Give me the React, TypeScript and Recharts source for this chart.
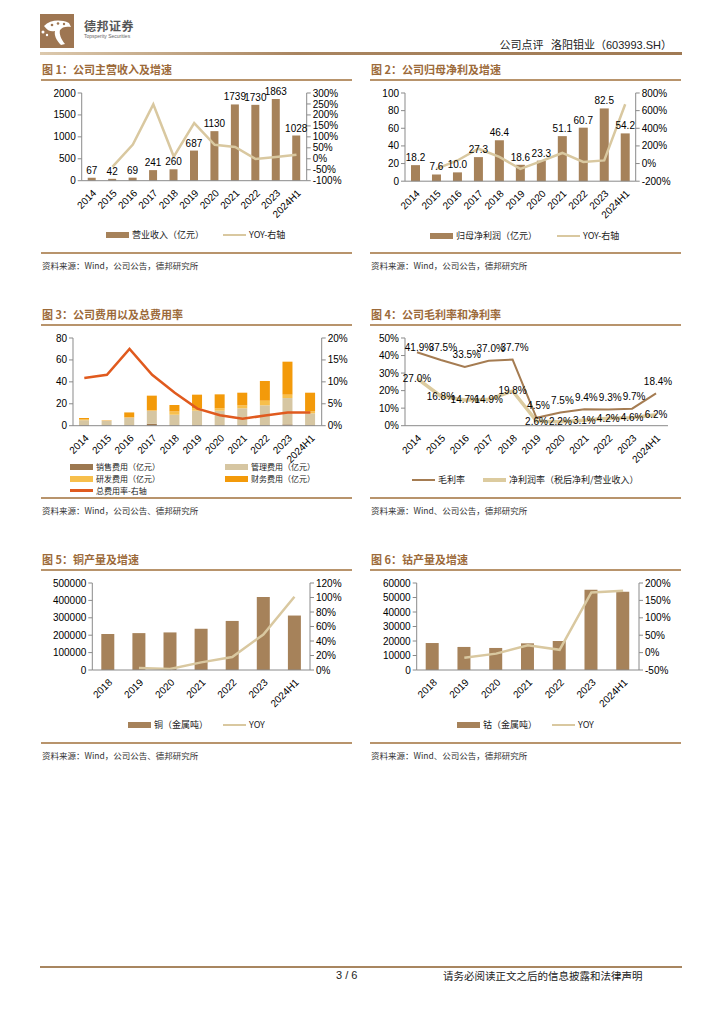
import React from 'react';
import { ComposedChart, Bar, Line, XAxis, YAxis, LabelList } from 'recharts';

// ---- data ----
const years = ['2014', '2015', '2016', '2017', '2018', '2019', '2020', '2021', '2022', '2023', '2024H1'];
const revenue = [67, 42, 69, 241, 260, 687, 1130, 1739, 1730, 1863, 1028];
const revenueYoy = [null, -37, 65, 248, 10, 163, 64, 54, -1, 8, 18];

const netProfit = [18.2, 7.6, 10.0, 27.3, 46.4, 18.6, 23.3, 51.1, 60.7, 82.5, 54.2];
const netProfitYoy = [null, -60, 35, 168, 75, -60, 28, 120, 19, 36, 672];

const sellingExp = [0.5, 0.3, 0.4, 1.8, 0.5, 0.6, 0.5, 0.5, 0.5, 1.2, 0.5];
const adminExp = [4.5, 4.2, 7.0, 11.8, 9.5, 13.1, 13.2, 15.3, 18.1, 24.0, 10.8];
const rdExp = [0.8, 0.1, 0.2, 0.3, 3.0, 2.4, 2.1, 2.8, 4.2, 3.1, 1.8];
const finExp = [1.2, 0.3, 4.5, 13.5, 5.9, 12.2, 12.8, 11.5, 18.0, 30.1, 17.0];
const expRate = [10.9, 11.6, 17.5, 11.6, 7.5, 3.9, 2.4, 1.6, 2.3, 3.0, 3.0];

const grossMargin = [41.9, 37.5, 33.5, 37.0, 37.7, 4.5, 7.5, 9.4, 9.3, 9.7, 18.4];
const netMargin = [27.0, 16.8, 14.7, 14.9, 19.8, 2.6, 2.2, 3.1, 4.2, 4.6, 6.2];

const years7 = ['2018', '2019', '2020', '2021', '2022', '2023', '2024H1'];
const copper = [207000, 212000, 216000, 237000, 282000, 420000, 313000];
const copperYoy = [null, 2.8, 1.5, 10.5, 18, 49, 101];
const cobalt = [18600, 15900, 15200, 18400, 20000, 55400, 54000];
const cobaltYoy = [null, -15, -3, 21, 8, 173, 178];

const data1 = years.map((name, i) => ({ name, v: revenue[i], yoy: revenueYoy[i] }));
const data2 = years.map((name, i) => ({ name, v: netProfit[i], yoy: netProfitYoy[i] }));
const data3 = years.map((name, i) => ({
  name, sell: sellingExp[i], admin: adminExp[i], rd: rdExp[i], fin: finExp[i], rate: expRate[i],
}));
const data4 = years.map((name, i) => ({ name, gross: grossMargin[i], net: netMargin[i] }));
const data5 = years7.map((name, i) => ({ name, v: copper[i], yoy: copperYoy[i] }));
const data6 = years7.map((name, i) => ({ name, v: cobalt[i], yoy: cobaltYoy[i] }));

// ---- style ----
const BAR = '#A6825A';
const TAN = '#D9C8A0';
const TITLE = '#9C6A3A';
const RULE = '#B8946C';
const AXIS = '#8a8a8a';
const NUM = '"Liberation Sans", Arial, sans-serif';
const CJK = '"Noto Sans CJK SC", sans-serif';
const MT = 10;
const XH = 44;

const tickStyle = { fontSize: 10, fill: '#000', fontFamily: NUM };
const pct = (v: number) => `${v}%`;

function chartBox(colL: number, colR: number, x0: number, y0: number, x1: number, y1: number) {
  return {
    style: { position: 'absolute' as const, left: colL, top: y0 - MT },
    width: colR - colL,
    height: y1 - y0 + MT + XH,
    lw: x0 - colL,
    rw: colR - x1,
  };
}

function Frame({ left, top, title, source }: { left: number; top: number; title: string; source: string }) {
  return (
    <>
      <div style={{ position: 'absolute', left: left + 1, top: top + 6, fontFamily: CJK, fontWeight: 700, fontSize: 11, color: TITLE, whiteSpace: 'nowrap' }}>{title}</div>
      <div style={{ position: 'absolute', left, top: top + 24, width: 311, height: 1.5, background: RULE }} />
      <div style={{ position: 'absolute', left, top: top + 197, width: 311, height: 1.5, background: RULE }} />
      <div style={{ position: 'absolute', left: left + 1, top: top + 204, fontFamily: CJK, fontSize: 8.5, color: '#333', whiteSpace: 'nowrap' }}>{source}</div>
    </>
  );
}

function Key({ x, y, color, kind, label, w = 23, fs = 9 }: { x: number; y: number; color: string; kind: 'bar' | 'line' | 'thick'; label: string; w?: number; fs?: number }) {
  const h = kind === 'bar' ? 6 : kind === 'thick' ? 4 : 2.5;
  return (
    <>
      <div style={{ position: 'absolute', left: x, top: y - h / 2, width: w, height: h, background: color }} />
      <div style={{ position: 'absolute', left: x + w + 3, top: y - fs / 2 - 0.5, fontFamily: CJK, fontSize: fs, lineHeight: `${fs + 1}px`, color: '#222', whiteSpace: 'nowrap' }}>{label}</div>
    </>
  );
}

const xAxisProps = {
  dataKey: 'name',
  scale: 'band' as const,
  interval: 0 as const,
  angle: -45,
  textAnchor: 'end',
  height: XH,
  tick: tickStyle,
  tickLine: false,
  axisLine: { stroke: AXIS },
};

function yProps(width: number, orientation: 'left' | 'right') {
  return {
    width,
    orientation,
    interval: 0 as const,
    tick: tickStyle,
    tickSize: 4,
    tickLine: { stroke: AXIS },
    axisLine: { stroke: AXIS },
  };
}

function Chart1() {
  const b = chartBox(41, 352, 81.7, 93.3, 306.7, 181);
  return (
    <div style={b.style}>
      <ComposedChart width={b.width} height={b.height} data={data1} margin={{ top: MT, right: 0, left: 0, bottom: 0 }}>
        <XAxis {...xAxisProps} />
        <YAxis yAxisId="l" {...yProps(b.lw, 'left')} domain={[0, 2000]} ticks={[0, 500, 1000, 1500, 2000]} />
        <YAxis yAxisId="r" {...yProps(b.rw, 'right')} domain={[-100, 300]} ticks={[-100, -50, 0, 50, 100, 150, 200, 250, 300]} tickFormatter={pct} />
        <Bar yAxisId="l" dataKey="v" fill={BAR} barSize={8} isAnimationActive={false}>
          <LabelList dataKey="v" position="top" offset={4} style={{ fontSize: 10, fill: '#000', fontFamily: NUM }} />
        </Bar>
        <Line yAxisId="r" dataKey="yoy" stroke={TAN} strokeWidth={2.5} dot={false} type="linear" isAnimationActive={false} />
      </ComposedChart>
    </div>
  );
}

function Chart2() {
  const b = chartBox(370, 680, 405, 93.3, 635.7, 181.5);
  return (
    <div style={b.style}>
      <ComposedChart width={b.width} height={b.height} data={data2} margin={{ top: MT, right: 0, left: 0, bottom: 0 }}>
        <XAxis {...xAxisProps} />
        <YAxis yAxisId="l" {...yProps(b.lw, 'left')} domain={[0, 100]} ticks={[0, 20, 40, 60, 80, 100]} />
        <YAxis yAxisId="r" {...yProps(b.rw, 'right')} domain={[-200, 800]} ticks={[-200, 0, 200, 400, 600, 800]} tickFormatter={pct} />
        <Bar yAxisId="l" dataKey="v" fill={BAR} barSize={9} isAnimationActive={false}>
          <LabelList dataKey="v" position="top" offset={4} formatter={(v: number) => v.toFixed(1)} style={{ fontSize: 10, fill: '#000', fontFamily: NUM }} />
        </Bar>
        <Line yAxisId="r" dataKey="yoy" stroke={TAN} strokeWidth={2.5} dot={false} type="linear" isAnimationActive={false} />
      </ComposedChart>
    </div>
  );
}

const SELL = '#9C7850';
const ADMIN = '#D6C6A2';
const RD = '#F7BF4C';
const FIN = '#F39A0A';
const RATE = '#E05A1E';

function Chart3() {
  const b = chartBox(41, 352, 73, 338.3, 321.7, 426);
  return (
    <div style={b.style}>
      <ComposedChart width={b.width} height={b.height} data={data3} margin={{ top: MT, right: 0, left: 0, bottom: 0 }}>
        <XAxis {...xAxisProps} />
        <YAxis yAxisId="l" {...yProps(b.lw, 'left')} domain={[0, 80]} ticks={[0, 20, 40, 60, 80]} />
        <YAxis yAxisId="r" {...yProps(b.rw, 'right')} domain={[0, 20]} ticks={[0, 5, 10, 15, 20]} tickFormatter={pct} />
        <Bar yAxisId="l" dataKey="sell" stackId="s" fill={SELL} barSize={10} isAnimationActive={false} />
        <Bar yAxisId="l" dataKey="admin" stackId="s" fill={ADMIN} barSize={10} isAnimationActive={false} />
        <Bar yAxisId="l" dataKey="rd" stackId="s" fill={RD} barSize={10} isAnimationActive={false} />
        <Bar yAxisId="l" dataKey="fin" stackId="s" fill={FIN} barSize={10} isAnimationActive={false} />
        <Line yAxisId="r" dataKey="rate" stroke={RATE} strokeWidth={2.5} dot={false} type="linear" isAnimationActive={false} />
      </ComposedChart>
    </div>
  );
}

const GROSS = '#A57C52';
const NET = '#DCCB9F';

function GrossLabel(props: any) {
  const { x, y, value } = props;
  const cy = Math.max(y - 12, MT + 10);
  return (
    <text x={x + 2} y={cy} textAnchor="middle" dominantBaseline="central" style={{ fontSize: 10, fill: '#000', fontFamily: NUM }}>
      {`${value.toFixed(1)}%`}
    </text>
  );
}

function NetLabel(props: any) {
  const { x, y, value } = props;
  return (
    <text x={x} y={y} textAnchor="middle" dominantBaseline="central" style={{ fontSize: 10, fill: '#000', fontFamily: NUM }}>
      {`${value.toFixed(1)}%`}
    </text>
  );
}

function Chart4() {
  const b = chartBox(370, 680, 405, 338.3, 668, 426);
  return (
    <div style={b.style}>
      <ComposedChart width={b.width} height={b.height} data={data4} margin={{ top: MT, right: b.rw, left: 0, bottom: 0 }}>
        <XAxis {...xAxisProps} />
        <YAxis {...yProps(b.lw, 'left')} domain={[0, 50]} ticks={[0, 10, 20, 30, 40, 50]} tickFormatter={pct} />
        <Line dataKey="net" stroke={NET} strokeWidth={3.5} dot={false} type="linear" isAnimationActive={false}>
          <LabelList dataKey="net" content={NetLabel} />
        </Line>
        <Line dataKey="gross" stroke={GROSS} strokeWidth={2} dot={false} type="linear" isAnimationActive={false}>
          <LabelList dataKey="gross" content={GrossLabel} />
        </Line>
      </ComposedChart>
    </div>
  );
}

function Chart5() {
  const b = chartBox(41, 352, 92.3, 583.3, 310, 670.3);
  return (
    <div style={b.style}>
      <ComposedChart width={b.width} height={b.height} data={data5} margin={{ top: MT, right: 0, left: 0, bottom: 0 }}>
        <XAxis {...xAxisProps} />
        <YAxis yAxisId="l" {...yProps(b.lw, 'left')} domain={[0, 500000]} ticks={[0, 100000, 200000, 300000, 400000, 500000]} />
        <YAxis yAxisId="r" {...yProps(b.rw, 'right')} domain={[0, 120]} ticks={[0, 20, 40, 60, 80, 100, 120]} tickFormatter={pct} />
        <Bar yAxisId="l" dataKey="v" fill={BAR} barSize={13} isAnimationActive={false} />
        <Line yAxisId="r" dataKey="yoy" stroke={TAN} strokeWidth={2.5} dot={false} type="linear" isAnimationActive={false} />
      </ComposedChart>
    </div>
  );
}

function Chart6() {
  const b = chartBox(370, 680, 416.7, 583.3, 639, 670.3);
  return (
    <div style={b.style}>
      <ComposedChart width={b.width} height={b.height} data={data6} margin={{ top: MT, right: 0, left: 0, bottom: 0 }}>
        <XAxis {...xAxisProps} />
        <YAxis yAxisId="l" {...yProps(b.lw, 'left')} domain={[0, 60000]} ticks={[0, 10000, 20000, 30000, 40000, 50000, 60000]} />
        <YAxis yAxisId="r" {...yProps(b.rw, 'right')} domain={[-50, 200]} ticks={[-50, 0, 50, 100, 150, 200]} tickFormatter={pct} />
        <Bar yAxisId="l" dataKey="v" fill={BAR} barSize={13} isAnimationActive={false} />
        <Line yAxisId="r" dataKey="yoy" stroke={TAN} strokeWidth={2.5} dot={false} type="linear" isAnimationActive={false} />
      </ComposedChart>
    </div>
  );
}

function Logo() {
  return (
    <svg style={{ position: 'absolute', left: 40, top: 14 }} width={34} height={34} viewBox="0 0 34 34">
      <rect x={0} y={0} width={34} height={34} fill="#9E7652" />
      <path d="M4 12 C10 6 20 5 29 9 L31 13 C26 12 22 13 20 16 C19 20 21 25 25 30 L21 31 C16 26 14 21 15 17 C11 18 8 17 4 12 Z" fill="#fff" />
      <circle cx={12} cy={11} r={1.3} fill="#9E7652" />
      <circle cx={18} cy={9.5} r={1.3} fill="#9E7652" />
      <circle cx={24} cy={10} r={1.2} fill="#9E7652" />
      <circle cx={3} cy={18} r={1.5} fill="#fff" />
      <circle cx={7} cy={21} r={1.2} fill="#fff" />
    </svg>
  );
}

export default function App() {
  return (
    <div style={{ position: 'absolute', left: 0, top: 0, width: 724, height: 1024, background: '#fff', overflow: 'hidden' }}>
      {/* header */}
      <Logo />
      <div style={{ position: 'absolute', left: 84, top: 17, fontFamily: CJK, fontWeight: 700, fontSize: 12, color: '#555', letterSpacing: 0.5 }}>德邦证券</div>
      <div style={{ position: 'absolute', left: 84, top: 33, fontFamily: NUM, fontSize: 5, color: '#666' }}>Topsperity Securities</div>
      <div style={{ position: 'absolute', right: 52, top: 36, fontFamily: CJK, fontSize: 11, color: '#222', whiteSpace: 'pre' }}>
        {'公司点评   洛阳钼业（'}<span style={{ fontFamily: NUM }}>603993.SH</span>{'）'}
      </div>
      <div style={{ position: 'absolute', left: 40, top: 52, width: 642, height: 2.5, background: 'linear-gradient(to right, #dcc9ad, #a98560 40%, #a07a54)' }} />

      {/* chart 1 */}
      <Frame left={41} top={55} title="图 1：公司主营收入及增速" source="资料来源：Wind，公司公告，德邦研究所" />
      <Chart1 />
      <Key x={106} y={235} color={BAR} kind="bar" label="营业收入（亿元）" />
      <Key x={223} y={235} color={TAN} kind="line" label="YOY-右轴" />

      {/* chart 2 */}
      <Frame left={370} top={55} title="图 2：公司归母净利及增速" source="资料来源：Wind，公司公告，德邦研究所" />
      <Chart2 />
      <Key x={430} y={236} color={BAR} kind="bar" label="归母净利润（亿元）" />
      <Key x={557} y={236} color={TAN} kind="line" label="YOY-右轴" />

      {/* chart 3 */}
      <Frame left={41} top={300} title="图 3：公司费用以及总费用率" source="资料来源：Wind，公司公告、德邦研究所" />
      <Chart3 />
      <Key x={70} y={466.5} color={SELL} kind="bar" label="销售费用（亿元）" fs={8} />
      <Key x={225} y={466.5} color={ADMIN} kind="bar" label="管理费用（亿元）" fs={8} />
      <Key x={70} y={478.5} color={RD} kind="bar" label="研发费用（亿元）" fs={8} />
      <Key x={225} y={478.5} color={FIN} kind="bar" label="财务费用（亿元）" fs={8} />
      <Key x={70} y={490.5} color={RATE} kind="line" label="总费用率-右轴" fs={8} />

      {/* chart 4 */}
      <Frame left={370} top={300} title="图 4：公司毛利率和净利率" source="资料来源：Wind、公司公告，德邦研究所" />
      <Chart4 />
      <Key x={412} y={480} color={GROSS} kind="line" label="毛利率" />
      <Key x={483} y={480} color={NET} kind="thick" label="净利润率（税后净利/营业收入）" />

      {/* chart 5 */}
      <Frame left={41} top={545} title="图 5：铜产量及增速" source="资料来源：Wind，公司公告、德邦研究所" />
      <Chart5 />
      <Key x={128} y={725} color={BAR} kind="bar" label="铜（金属吨）" />
      <Key x={223} y={725} color={TAN} kind="line" label="YOY" />

      {/* chart 6 */}
      <Frame left={370} top={545} title="图 6：钴产量及增速" source="资料来源：Wind、公司公告，德邦研究所" />
      <Chart6 />
      <Key x={457} y={725} color={BAR} kind="bar" label="钴（金属吨）" />
      <Key x={552} y={725} color={TAN} kind="line" label="YOY" />

      {/* footer */}
      <div style={{ position: 'absolute', left: 40, top: 966, width: 642, height: 2, background: '#A88660' }} />
      <div style={{ position: 'absolute', left: 336, top: 969, fontFamily: NUM, fontSize: 11, color: '#222' }}>3 / 6</div>
      <div style={{ position: 'absolute', left: 443, top: 968, fontFamily: CJK, fontSize: 10.5, color: '#222', whiteSpace: 'nowrap' }}>请务必阅读正文之后的信息披露和法律声明</div>
    </div>
  );
}
